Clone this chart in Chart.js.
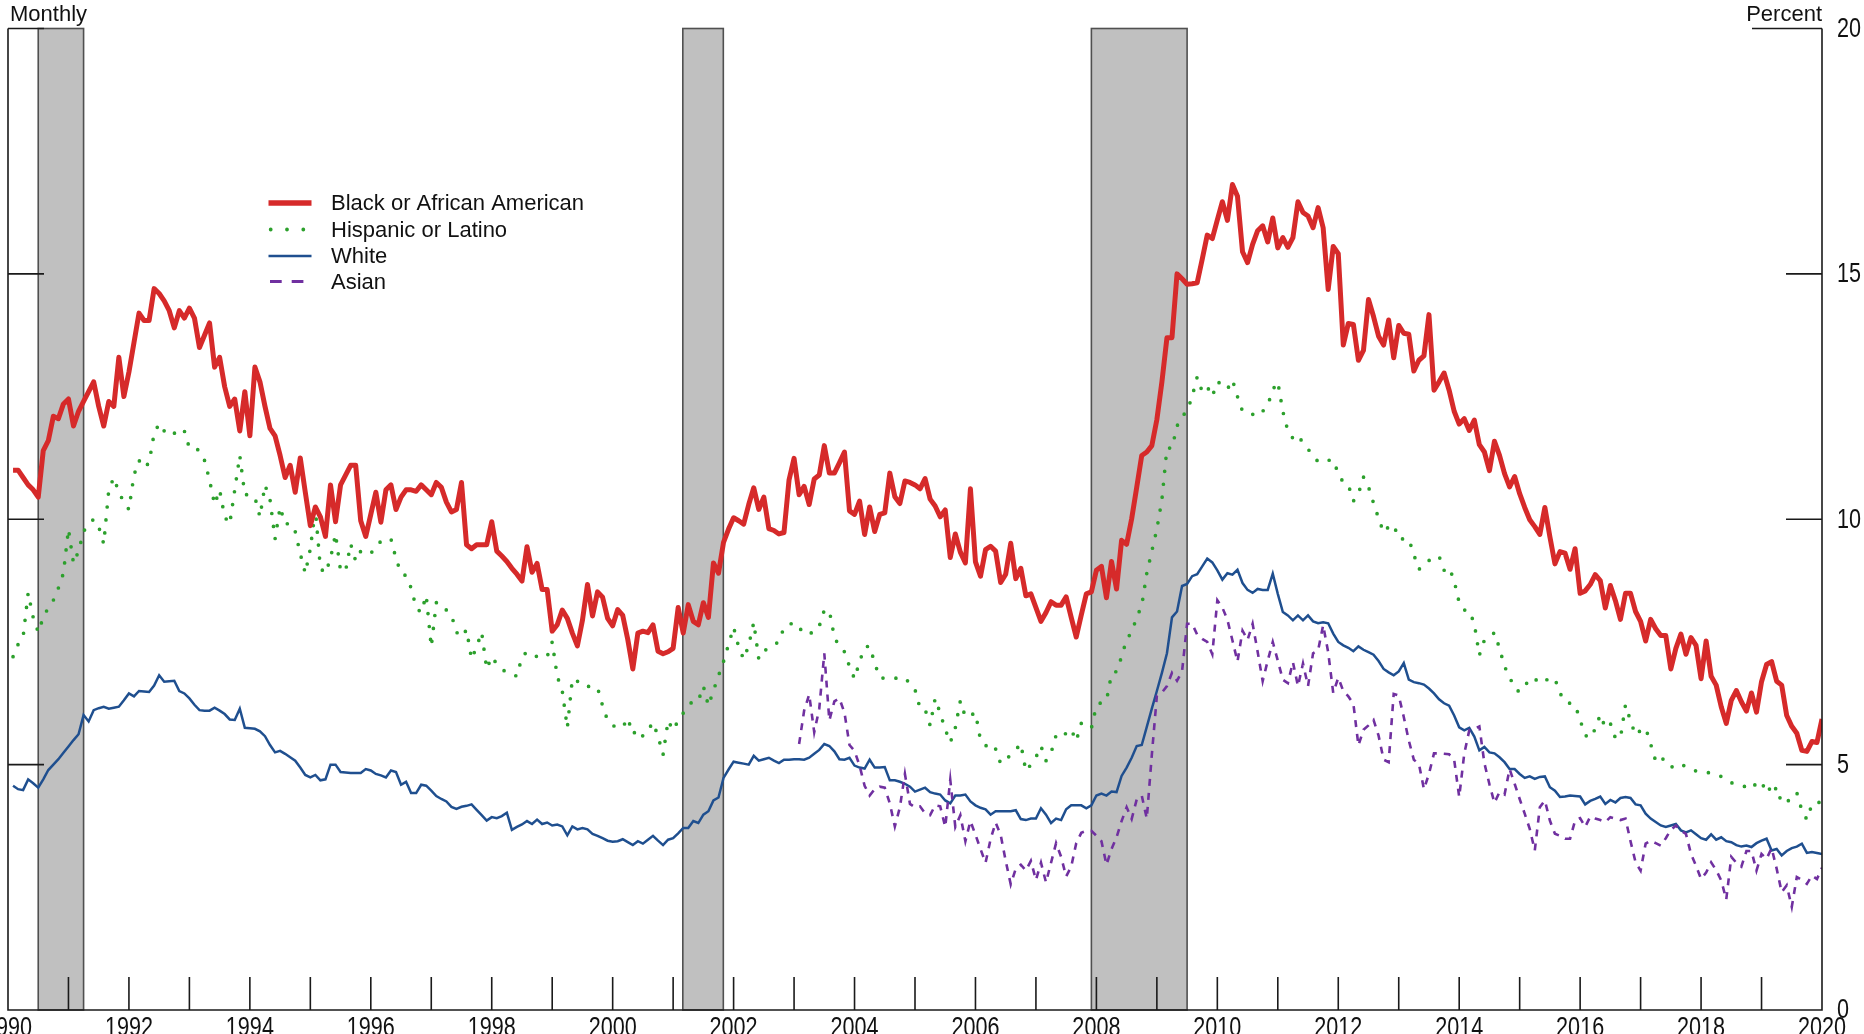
<!DOCTYPE html>
<html>
<head>
<meta charset="utf-8">
<script src="https://cdn.jsdelivr.net/npm/chart.js@4/dist/chart.umd.min.js"></script>
<style>
  html, body { margin: 0; padding: 0; background: #ffffff; overflow: hidden; }
  #wrap { width: 1864px; height: 1034px; position: relative; }
  canvas { display: block; }
</style>
</head>
<body>
<div id="wrap"><canvas id="chart" width="1864" height="1034"></canvas></div>
<script>
// Unemployment rate by race and ethnicity, monthly, percent (Jan 1990 - Dec 2019)
const startYear = 1990;

const blackRate = [
  11.0, 11.0, 10.85, 10.7, 10.6, 10.45, 11.4, 11.6, 12.1, 12.05, 12.35, 12.45,
  11.9, 12.2, 12.4, 12.6, 12.8, 12.3, 11.9, 12.4, 12.3, 13.3, 12.5, 13.0,
  13.6, 14.2, 14.05, 14.05, 14.7, 14.6, 14.45, 14.25, 13.9, 14.25, 14.1, 14.3,
  14.1, 13.5, 13.75, 14.0, 13.1, 13.3, 12.7, 12.3, 12.45, 11.8, 12.6, 11.7,
  13.1, 12.8, 12.3, 11.85, 11.7, 11.3, 10.85, 11.1, 10.55, 11.25, 10.55, 9.87,
  10.25, 10.05, 9.65, 10.7, 9.95, 10.7, 10.9, 11.1, 11.1, 9.97, 9.65, 10.1,
  10.55, 9.94, 10.6, 10.7, 10.2, 10.45, 10.6, 10.6, 10.57, 10.7, 10.6, 10.5,
  10.75, 10.65, 10.35, 10.15, 10.2, 10.75, 9.48, 9.4, 9.48, 9.48, 9.48, 9.95,
  9.35, 9.25, 9.14, 9.0, 8.88, 8.74, 9.44, 8.92, 9.1, 8.57, 8.57, 7.72,
  7.85, 8.15, 7.98, 7.68, 7.42, 7.94, 8.67, 8.03, 8.52, 8.41, 7.98, 7.83,
  8.16, 8.04, 7.55, 6.95, 7.68, 7.72, 7.69, 7.85, 7.31, 7.26, 7.3, 7.37,
  8.2, 7.68, 8.26, 7.92, 7.85, 8.3, 8.0, 9.11, 8.9, 9.53, 9.8, 10.03,
  9.97, 9.9, 10.3, 10.64, 10.2, 10.45, 9.81, 9.77, 9.7, 9.73, 10.8, 11.24,
  10.5, 10.67, 10.3, 10.82, 10.9, 11.5, 10.94, 10.94, 11.15, 11.37, 10.17, 10.1,
  10.37, 9.69, 10.25, 9.75, 10.1, 10.13, 10.94, 10.46, 10.32, 10.78, 10.75, 10.7,
  10.62, 10.83, 10.41, 10.27, 10.05, 10.19, 9.22, 9.7, 9.33, 9.11, 10.62, 9.13,
  8.84, 9.38, 9.45, 9.35, 8.71, 8.88, 9.51, 8.79, 9.0, 8.44, 8.48, 8.2,
  7.92, 8.1, 8.32, 8.25, 8.25, 8.42, 8.0, 7.6, 8.05, 8.48, 8.52, 8.96,
  9.04, 8.4, 9.14, 8.58, 9.57, 9.49, 10.01, 10.65, 11.3, 11.37, 11.5, 12.03,
  12.8, 13.7, 13.7, 15.0, 14.9, 14.79, 14.8, 14.82, 15.3, 15.79, 15.72, 16.1,
  16.47, 16.09, 16.82, 16.58, 15.45, 15.23, 15.6, 15.88, 15.98, 15.65, 16.14, 15.53,
  15.74, 15.54, 15.74, 16.47, 16.25, 16.18, 15.94, 16.35, 15.94, 14.68, 15.56, 15.41,
  13.55, 13.99, 13.97, 13.24, 13.44, 14.48, 14.13, 13.73, 13.55, 14.06, 13.29, 13.95,
  13.79, 13.77, 13.02, 13.24, 13.33, 14.17, 12.63, 12.8, 12.98, 12.63, 12.2, 11.94,
  12.05, 11.81, 12.02, 11.52, 11.37, 10.99, 11.59, 11.3, 10.93, 10.66, 10.87, 10.52,
  10.24, 9.99, 9.85, 9.69, 10.24, 9.64, 9.09, 9.34, 9.31, 8.98, 9.4, 8.49,
  8.54, 8.67, 8.87, 8.75, 8.19, 8.65, 8.34, 7.96, 8.49, 8.49, 8.12, 7.92,
  7.52, 7.96, 7.77, 7.63, 7.63, 6.95, 7.37, 7.66, 7.25, 7.59, 7.43, 6.75,
  7.52, 6.8, 6.62, 6.18, 5.84, 6.31, 6.51, 6.28, 6.09, 6.46, 6.07, 6.69,
  7.04, 7.1, 6.7, 6.62, 6.0, 5.78, 5.64, 5.29, 5.27, 5.47, 5.45, 5.93
];

const hispanicRate = [
  7.2, 7.45, 7.6, 8.5, 8.0, 7.7, 8.0, 8.2, 8.35, 8.6, 8.9, 9.8,
  9.1, 9.35, 9.75, 9.9, 10.0, 9.85, 9.5, 10.6, 10.85, 10.55, 10.35, 10.2,
  10.9, 11.2, 11.05, 11.15, 11.75, 11.95, 11.8, 11.7, 11.75, 11.85, 11.8, 11.45,
  11.45, 11.4, 11.2, 10.8, 10.3, 10.6, 10.05, 9.9, 10.6, 11.3, 10.5, 10.5,
  10.45, 10.05, 10.7, 10.4, 9.6, 10.25, 9.9, 9.92, 9.75, 9.3, 8.9, 9.4,
  10.2, 9.0, 8.9, 9.2, 9.7, 8.95, 8.95, 9.5, 9.15, 9.35, 9.3, 9.3,
  9.45, 9.55, 9.6, 9.6, 9.2, 8.9, 8.85, 8.6, 8.2, 8.1, 8.45, 7.4,
  8.3, 8.28, 8.15, 8.05, 7.7, 7.6, 7.75, 7.15, 7.4, 7.7, 6.95, 7.2,
  7.05, 6.95, 6.87, 6.85, 6.8, 7.2, 7.3, 7.25, 7.2, 7.2, 7.2, 7.5,
  6.8, 6.5, 5.75, 6.75, 6.7, 6.6, 6.6, 6.57, 6.57, 6.2, 5.9, 5.8,
  5.75, 5.76, 5.95, 5.62, 5.72, 5.58, 5.7, 5.86, 5.58, 5.2, 5.9, 5.7,
  5.9, 6.05, 6.2, 6.3, 6.3, 6.6, 6.2, 6.51, 6.81, 7.1, 7.45, 7.8,
  7.4, 7.15, 7.43, 7.9, 7.15, 7.3, 7.4, 7.45, 7.5, 7.8, 7.85, 7.9,
  7.8, 7.66, 7.68, 7.69, 7.82, 8.15, 8.14, 7.6, 7.4, 7.3, 7.0, 6.75,
  7.1, 7.39, 7.42, 7.07, 6.77, 6.76, 6.75, 6.76, 6.77, 6.77, 6.65, 6.53,
  6.15, 6.13, 5.8, 6.35, 6.05, 5.72, 5.45, 5.75, 6.3, 5.97, 6.0, 6.06,
  5.5, 5.4, 5.27, 5.32, 5.02, 5.1, 5.2, 5.3, 5.43, 4.87, 5.0, 5.15,
  5.38, 5.08, 5.24, 5.6, 5.68, 5.62, 5.72, 5.48, 5.84, 5.8, 5.74, 6.2,
  6.27, 6.3, 6.85, 6.9, 7.2, 7.55, 7.7, 8.0, 8.24, 8.9, 9.35, 9.8,
  10.4, 11.45, 11.45, 11.9, 12.1, 12.2, 12.5, 12.9, 12.6, 12.7, 12.5, 12.8,
  12.75, 12.65, 12.84, 12.5, 12.2, 12.17, 12.14, 12.1, 12.2, 12.32, 12.64, 12.8,
  12.2, 11.8, 11.65, 11.72, 11.55, 11.43, 11.3, 11.17, 11.2, 11.2, 11.21, 10.93,
  10.75, 10.7, 10.37, 10.52, 10.86, 10.66, 10.33, 10.02, 9.73, 9.85, 9.89, 9.6,
  9.6, 9.6, 9.28, 8.98, 9.05, 9.16, 9.2, 9.25, 8.96, 9.02, 8.75, 8.3,
  8.15, 8.14, 7.87, 7.23, 7.54, 7.6, 7.69, 7.37, 7.0, 6.79, 6.55, 6.48,
  6.6, 6.75, 6.7, 6.8, 6.75, 6.7, 6.75, 6.46, 6.28, 6.25, 6.22, 5.91,
  5.6, 5.54, 5.73, 6.02, 5.75, 5.84, 5.54, 5.54, 6.22, 5.89, 5.6, 5.7,
  5.75, 5.42, 5.07, 5.16, 5.05, 4.94, 5.0, 5.02, 4.95, 4.9, 4.87, 4.86,
  4.85, 4.82, 4.78, 4.76, 4.7, 4.63, 4.6, 4.58, 4.54, 4.5, 4.63, 4.52,
  4.65, 4.39, 4.54, 4.21, 4.25, 4.3, 4.43, 4.07, 3.88, 4.19, 4.25, 4.2
];

const whiteRate = [
  4.57, 4.5, 4.48, 4.7, 4.62, 4.53, 4.7, 4.89, 5.0, 5.11, 5.24, 5.37,
  5.5, 5.62, 6.01, 5.88, 6.11, 6.15, 6.18, 6.14, 6.16, 6.18, 6.31, 6.45,
  6.39, 6.5, 6.49, 6.48, 6.61, 6.82, 6.69, 6.7, 6.71, 6.5, 6.45, 6.35,
  6.22, 6.11, 6.1, 6.1, 6.16, 6.1, 6.03, 5.92, 5.91, 6.14, 5.75, 5.74,
  5.73, 5.68, 5.58, 5.4, 5.25, 5.28, 5.22, 5.15, 5.08, 4.94, 4.79, 4.74,
  4.79, 4.68, 4.7, 5.0, 5.0, 4.85, 4.84, 4.83, 4.83, 4.83, 4.91, 4.88,
  4.81, 4.78, 4.74, 4.88, 4.85, 4.59, 4.65, 4.42, 4.42, 4.59, 4.57, 4.47,
  4.36, 4.3, 4.25, 4.14, 4.1, 4.14, 4.16, 4.19, 4.08, 3.97, 3.86, 3.93,
  3.91, 3.95, 4.02, 3.67, 3.73, 3.78, 3.85, 3.79, 3.88, 3.79, 3.82, 3.76,
  3.78, 3.74, 3.56, 3.74, 3.68, 3.71, 3.68, 3.59, 3.55, 3.5, 3.45, 3.43,
  3.44, 3.48, 3.42, 3.36, 3.44, 3.39, 3.47, 3.55, 3.45, 3.36, 3.47, 3.5,
  3.6, 3.71, 3.71, 3.85, 3.81, 3.98, 4.05, 4.27, 4.33, 4.73, 4.9, 5.06,
  5.04, 5.02, 5.0, 5.18, 5.08, 5.11, 5.14, 5.08, 5.03, 5.1, 5.1, 5.11,
  5.11, 5.1, 5.14, 5.22, 5.3, 5.42, 5.38, 5.27, 5.11, 5.1, 5.14, 4.98,
  4.94, 4.92, 5.1, 4.94, 4.94, 4.95, 4.68, 4.68, 4.65, 4.61, 4.55, 4.45,
  4.49, 4.53, 4.44, 4.41, 4.39, 4.27, 4.21, 4.37, 4.37, 4.39, 4.25, 4.17,
  4.12, 4.09, 3.98, 4.05, 4.05, 4.05, 4.05, 4.07, 3.89, 3.87, 3.9, 3.9,
  4.11, 3.98, 3.81, 3.9, 3.87, 4.09, 4.17, 4.17, 4.17, 4.11, 4.17, 4.37,
  4.41, 4.37, 4.45, 4.44, 4.77, 4.94, 5.14, 5.38, 5.4, 5.77, 6.14, 6.5,
  6.87, 7.27, 8.0, 8.12, 8.64, 8.68, 8.84, 8.88, 9.04, 9.2, 9.12, 8.96,
  8.77, 8.9, 8.87, 8.97, 8.7, 8.56, 8.5, 8.58, 8.56, 8.56, 8.89, 8.48,
  8.11, 8.04, 7.94, 8.04, 7.94, 8.04, 7.92, 7.88, 7.9, 7.88, 7.67, 7.5,
  7.43, 7.38, 7.31, 7.41, 7.34, 7.29, 7.24, 7.11, 6.95, 6.88, 6.82, 6.9,
  7.07, 6.73, 6.68, 6.66, 6.63, 6.55, 6.45, 6.33, 6.25, 6.2, 6.0, 5.76,
  5.7, 5.75, 5.57, 5.29, 5.36, 5.25, 5.23, 5.15, 5.05, 4.91, 4.91, 4.81,
  4.73, 4.76, 4.71, 4.75, 4.76, 4.54, 4.47, 4.34, 4.35, 4.37, 4.36, 4.35,
  4.19, 4.26, 4.3, 4.35, 4.2, 4.28, 4.23, 4.32, 4.34, 4.32, 4.19, 4.17,
  4.0, 3.9, 3.83, 3.76, 3.73, 3.76, 3.79, 3.66, 3.62, 3.66, 3.58, 3.5,
  3.47, 3.58, 3.47, 3.52, 3.44, 3.42, 3.36, 3.33, 3.35, 3.32, 3.4, 3.45,
  3.49, 3.25, 3.28, 3.15, 3.24, 3.3, 3.33, 3.39, 3.2, 3.22, 3.2, 3.18
];

// Asian series begins January 2003
const asianStartYear = 2003;
const asianRate = [
  5.42, 6.1, 6.43, 5.66, 6.14, 7.27, 5.9, 6.29, 6.35, 6.06, 5.4, 5.28,
  4.98, 4.57, 4.37, 4.5, 4.55, 4.53, 4.21, 3.74, 4.13, 4.81, 4.2, 4.13,
  4.15, 4.01, 3.97, 4.17, 4.15, 3.73, 4.69, 3.73, 3.97, 3.44, 3.85, 3.57,
  3.28, 3.0, 3.48, 3.82, 3.57, 3.04, 2.56, 2.88, 2.96, 2.84, 3.04, 2.65,
  3.0, 2.6, 3.0, 3.4, 3.12, 2.72, 2.92, 3.4, 3.61, 3.65, 3.65, 3.55,
  3.44, 2.96, 3.28, 3.52, 3.85, 4.13, 3.89, 4.29, 4.37, 3.9, 5.2, 6.4,
  6.47, 6.6, 6.87, 6.71, 6.9, 7.87, 7.87, 7.65, 7.56, 7.5, 7.25, 8.35,
  8.2, 7.95, 7.53, 7.1, 7.73, 7.54, 7.87, 7.3, 6.7, 7.12, 7.5, 7.12,
  6.73, 6.66, 7.09, 6.6, 7.06, 6.6, 7.27, 7.33, 7.84, 7.29, 6.46, 6.77,
  6.5, 6.39, 6.24, 5.39, 5.71, 5.8, 5.91, 5.59, 5.1, 5.05, 6.44, 6.41,
  5.97, 5.49, 5.1, 5.02, 4.5, 4.81, 5.23, 5.23, 5.22, 5.21, 5.1, 4.34,
  5.22, 5.7, 5.73, 5.78, 5.03, 4.6, 4.22, 4.44, 4.39, 4.91, 4.61, 4.3,
  4.0, 3.69, 3.25, 4.13, 4.27, 3.86, 3.59, 3.55, 3.49, 3.49, 3.86, 3.91,
  3.73, 3.94, 3.9, 3.87, 3.83, 3.93, 3.9, 3.87, 3.9, 3.44, 3.01, 2.84,
  3.39, 3.45, 3.4, 3.35, 3.5, 3.67, 3.76, 3.65, 3.59, 3.18, 2.94, 2.67,
  2.8, 3.01, 2.85, 2.64, 2.25, 3.12, 3.0, 2.92, 3.24, 3.24, 2.84, 3.18,
  3.08, 3.3, 2.88, 2.4, 2.54, 2.1, 2.71, 2.65, 2.57, 2.74, 2.67, 2.9
];

// Recession periods (fractional years)
const recessionStart = [1990.5, 2001.16, 2007.917];
const recessionEnd   = [1991.25, 2001.83, 2009.5];

const yearLabels = [1990, 1992, 1994, 1996, 1998, 2000, 2002, 2004, 2006, 2008, 2010, 2012, 2014, 2016, 2018, 2020];
const percentLabels = [0, 5, 10, 15, 20];

const seriesNames = ['Black or African American', 'Hispanic or Latino', 'White', 'Asian'];
const seriesColors = ['#d62a2a', '#2ca02c', '#1f4f8f', '#7030a0'];

function toPoints(values, firstYear) {
  return values.map((v, i) => ({ x: firstYear + (i + 1) / 12, y: v }));
}

const FONT = '"Liberation Sans", Arial, Helvetica, sans-serif';

function narrowText(ctx, text, x, y, align, baseline) {
  ctx.save();
  ctx.translate(x, y);
  ctx.scale(0.8, 1);
  ctx.textAlign = align;
  ctx.textBaseline = baseline;
  ctx.fillText(text, 0, 0);
  ctx.restore();
}

const framePlugin = {
  id: 'frame',
  beforeDatasetsDraw(chart) {
    const { ctx, chartArea: a, scales: { x } } = chart;
    ctx.save();
    // recession shading
    for (let i = 0; i < recessionStart.length; i++) {
      const x0 = x.getPixelForValue(recessionStart[i]);
      const x1 = x.getPixelForValue(recessionEnd[i]);
      ctx.fillStyle = '#c0c0c0';
      ctx.fillRect(x0, a.top, x1 - x0, a.bottom - a.top);
      ctx.strokeStyle = '#505050';
      ctx.lineWidth = 1.6;
      ctx.strokeRect(x0, a.top, x1 - x0, a.bottom - a.top);
    }
    ctx.restore();
  },
  afterDatasetsDraw(chart) {
    const { ctx, chartArea: a, scales: { x, y } } = chart;
    ctx.save();
    ctx.strokeStyle = '#1a1a1a';
    ctx.lineWidth = 1.6;
    ctx.beginPath();
    // frame: left, bottom, right
    ctx.moveTo(a.left, a.top); ctx.lineTo(a.left, a.bottom);
    ctx.lineTo(a.right, a.bottom); ctx.lineTo(a.right, a.top);
    // yearly ticks pointing up from the bottom axis
    for (let yr = startYear + 1; yr < 2020; yr++) {
      const px = x.getPixelForValue(yr);
      ctx.moveTo(px, a.bottom); ctx.lineTo(px, a.bottom - 33);
    }
    // percent ticks on both sides
    percentLabels.forEach(p => {
      if (p === 0) return;
      const py = y.getPixelForValue(p);
      ctx.moveTo(a.left, py); ctx.lineTo(a.left + 36, py);
      ctx.moveTo(a.right, py); ctx.lineTo(a.right - (p === 20 ? 70 : 36), py);
    });
    ctx.stroke();

    // tick labels
    ctx.fillStyle = '#111';
    ctx.font = '27px ' + FONT;
    yearLabels.forEach(yr => {
      narrowText(ctx, String(yr), x.getPixelForValue(yr), a.bottom + 26, 'center', 'alphabetic');
    });
    percentLabels.forEach(p => {
      narrowText(ctx, String(p), a.right + 15, y.getPixelForValue(p) + 1, 'left', 'middle');
    });

    // unit headers
    ctx.font = '22px ' + FONT;
    ctx.textBaseline = 'alphabetic';
    ctx.textAlign = 'left';
    ctx.fillText('Monthly', 10, 21);
    ctx.textAlign = 'right';
    ctx.fillText('Percent', a.right, 21);

    // legend
    const rows = [203, 229.5, 256, 281.5];
    const styles = [
      { w: 5.5, dash: [], cap: 'butt' },
      { w: 3.8, dash: [0, 16.3], cap: 'round' },
      { w: 2.6, dash: [], cap: 'butt' },
      { w: 2.8, dash: [11.7, 10], cap: 'butt' }
    ];
    rows.forEach((ry, i) => {
      const s = styles[i];
      ctx.save();
      ctx.strokeStyle = seriesColors[i];
      ctx.lineWidth = s.w;
      ctx.lineCap = s.cap;
      ctx.setLineDash(s.dash);
      ctx.beginPath();
      if (i === 1) { ctx.moveTo(270.7, ry); ctx.lineTo(306, ry); }
      else if (i === 3) { ctx.moveTo(270, ry); ctx.lineTo(304, ry); }
      else { ctx.moveTo(268.5, ry); ctx.lineTo(311.5, ry); }
      ctx.stroke();
      ctx.restore();
      ctx.fillStyle = '#111';
      ctx.textAlign = 'left';
      ctx.textBaseline = 'middle';
      ctx.fillText(seriesNames[i], 331, ry + 1);
    });
    ctx.restore();
  }
};

new Chart(document.getElementById('chart'), {
  type: 'line',
  data: {
    datasets: [
      {
        label: seriesNames[2],
        data: toPoints(whiteRate, startYear),
        borderColor: seriesColors[2],
        borderWidth: 2.5,
        pointRadius: 0,
        tension: 0,
        order: 3
      },
      {
        label: seriesNames[1],
        data: toPoints(hispanicRate, startYear),
        borderColor: seriesColors[1],
        borderWidth: 3.7,
        borderDash: [0, 13],
        borderCapStyle: 'round',
        pointRadius: 0,
        tension: 0,
        order: 2
      },
      {
        label: seriesNames[0],
        data: toPoints(blackRate, startYear),
        borderColor: seriesColors[0],
        borderWidth: 5,
        borderJoinStyle: 'round',
        pointRadius: 0,
        tension: 0,
        order: 1
      },
      {
        label: seriesNames[3],
        data: toPoints(asianRate, asianStartYear),
        borderColor: seriesColors[3],
        borderWidth: 2.6,
        borderDash: [7, 7],
        pointRadius: 0,
        tension: 0,
        order: 0
      }
    ]
  },
  options: {
    responsive: false,
    devicePixelRatio: 1,
    animation: false,
    events: [],
    layout: { padding: { left: 8, right: 42, top: 28.5, bottom: 24 } },
    scales: {
      x: { type: 'linear', min: 1990, max: 2020, display: false },
      y: { type: 'linear', min: 0, max: 20, display: false }
    },
    plugins: {
      legend: { display: false },
      tooltip: { enabled: false },
      title: { display: false }
    }
  },
  plugins: [framePlugin]
});
</script>
</body>
</html>
